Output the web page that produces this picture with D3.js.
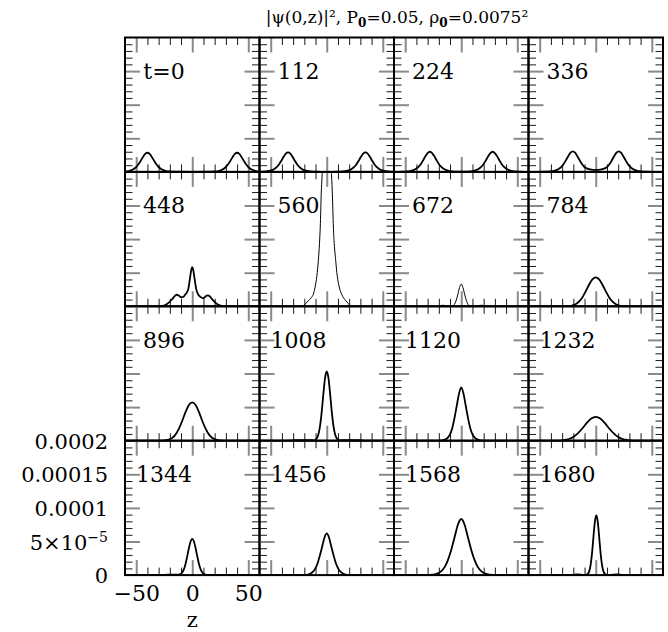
<!DOCTYPE html>
<html>
<head>
<meta charset="utf-8">
<script src="https://cdn.jsdelivr.net/npm/d3@7"></script>
<style>
    body { margin: 0; background: #fff; }
    svg { display: block; }
    text { font-family: "DejaVu Serif", serif; fill: #000; }
</style>
</head>
<body>
<script>
// labels of the 16 panels (time)
const times = ["t=0", "112", "224", "336", "448", "560", "672", "784",
    "896", "1008", "1120", "1232", "1344", "1456", "1568", "1680"]

// |psi(0,z)|^2, [z, value in units of 1e-5]
const c0 = [[-60,0.06],[-56,0.17],[-53,0.36],[-50,0.73],[-48,1.13],[-46,1.64],[-44,2.2],[-42,2.67],[-40,2.85],[-38,2.67],[-36,2.2],[-34,1.64],[-32,1.13],[-30,0.73],[-27,0.36],[-24,0.17],[-20,0.06],[-15,0.02],[0,0],[15,0.02],[20,0.06],[24,0.17],[27,0.36],[30,0.73],[32,1.13],[34,1.64],[36,2.2],[38,2.67],[40,2.85],[42,2.67],[44,2.2],[46,1.64],[48,1.13],[50,0.73],[53,0.36],[56,0.17],[60,0.06]]
const c112 = [[-60,0.02],[-54.5,0.06],[-50.5,0.18],[-47.5,0.37],[-44.5,0.75],[-42.5,1.15],[-40.5,1.67],[-38.5,2.24],[-36.5,2.72],[-34.5,2.9],[-32.5,2.72],[-30.5,2.24],[-28.5,1.67],[-26.5,1.15],[-24.5,0.75],[-21.5,0.37],[-18.5,0.18],[-14.5,0.06],[-9.5,0.02],[0,0.01],[9.5,0.02],[14.5,0.06],[18.5,0.18],[21.5,0.37],[24.5,0.75],[26.5,1.15],[28.5,1.67],[30.5,2.24],[32.5,2.72],[34.5,2.9],[36.5,2.72],[38.5,2.24],[40.5,1.67],[42.5,1.15],[44.5,0.75],[47.5,0.37],[50.5,0.18],[54.5,0.06],[60,0.02]]
const c224 = [[-60,0.01],[-53,0.02],[-48,0.065],[-44,0.18],[-41,0.38],[-38,0.77],[-36,1.19],[-34,1.73],[-32,2.32],[-30,2.81],[-28,3.0],[-26,2.81],[-24,2.32],[-22,1.73],[-20,1.19],[-18,0.77],[-15,0.38],[-12,0.18],[-8,0.065],[-3,0.03],[0,0.025],[3,0.03],[8,0.065],[12,0.18],[15,0.38],[18,0.77],[20,1.19],[22,1.73],[24,2.32],[26,2.81],[28,3.0],[30,2.81],[32,2.32],[34,1.73],[36,1.19],[38,0.77],[41,0.38],[44,0.18],[48,0.065],[53,0.02],[60,0.01]]
const c336 = [[-60,0.005],[-45.5,0.02],[-40.5,0.065],[-36.5,0.19],[-33.5,0.39],[-30.5,0.78],[-28.5,1.21],[-26.5,1.76],[-24.5,2.36],[-22.5,2.86],[-20.5,3.05],[-18.5,2.86],[-16.5,2.36],[-14.5,1.76],[-12.5,1.21],[-10.5,0.8],[-7.5,0.48],[-4,0.34],[0,0.3],[4,0.34],[7.5,0.48],[10.5,0.8],[12.5,1.21],[14.5,1.76],[16.5,2.36],[18.5,2.86],[20.5,3.05],[22.5,2.86],[24.5,2.36],[26.5,1.76],[28.5,1.21],[30.5,0.78],[33.5,0.39],[36.5,0.19],[40.5,0.065],[45.5,0.02],[60,0.005]]
const c448 = [[-60,0],[-30,0],[-27,0.05],[-24,0.2],[-21,0.55],[-18,1.05],[-15.5,1.55],[-13.8,1.72],[-12,1.6],[-10,1.35],[-8,1.4],[-6.5,1.7],[-5,2.0],[-3.5,2.6],[-2,4.2],[-1,5.3],[0,5.82],[1,5.3],[2,4.2],[3.5,2.6],[5,1.85],[6.5,1.5],[8,1.3],[10,1.2],[12,1.5],[13.8,1.62],[15.5,1.5],[18,1.0],[21,0.5],[24,0.18],[27,0.05],[30,0],[60,0]]
const c560 = [[-60,0],[-25,0],[-21,0.1],[-18.5,0.45],[-16.5,0.8],[-14,1.25],[-12,1.8],[-10,3.2],[-8.5,5.0],[-7.5,6.8],[-6.5,9.3],[-5.8,11.8],[-4.9,16.8],[-4,20],[-3,24],[-1.5,29],[0,31],[1.5,29],[3,24],[4.1,20],[5,16.8],[5.9,11.8],[6.7,9.3],[8,6.8],[9,5.0],[10.7,3.2],[13.3,1.8],[15,1.25],[17.3,0.8],[19,0.45],[20.8,0.1],[25,0],[60,0]]
const c672 = [[-60,0],[-23,0],[-20,0.05],[-17,0.15],[-14,0.12],[-11,0.02],[-9,0],[-7.5,0.05],[-6,0.3],[-4.5,0.9],[-3,1.8],[-1.5,2.8],[0,3.3],[1.5,2.8],[3,1.8],[4.5,0.9],[6,0.3],[7.5,0.05],[9,0],[12,0.02],[15.5,0.12],[18.5,0.15],[21.5,0.05],[24,0],[60,0]]
const c784 = [[-60,0],[-30,0],[-25,0.02],[-21,0.12],[-18,0.3],[-15,0.68],[-12,1.32],[-9,2.21],[-6,3.2],[-3,4.0],[0,4.3],[3,4.0],[6,3.2],[9,2.21],[12,1.32],[15,0.68],[18,0.3],[21,0.12],[25,0.02],[30,0],[60,0]]
const c896 = [[-60,0],[-30,0],[-25,0.03],[-21,0.16],[-18,0.4],[-15,0.9],[-12,1.75],[-9,2.93],[-6,4.24],[-3,5.3],[0,5.7],[3,5.3],[6,4.24],[9,2.93],[12,1.75],[15,0.9],[18,0.4],[21,0.16],[25,0.03],[30,0],[60,0]]
const c1008 = [[-60,0],[-35,0],[-30,0.05],[-25,0.1],[-20,0.1],[-15,0.08],[-11,0.06],[-9,0.31],[-7.5,0.91],[-6,2.17],[-4.5,4.29],[-3,6.98],[-1.5,9.35],[0,10.3],[1.5,9.35],[3,6.98],[4.5,4.29],[6,2.17],[7.5,0.91],[9,0.31],[11,0.06],[15,0.08],[20,0.1],[25,0.1],[30,0.05],[35,0],[60,0]]
const c1120 = [[-60,0],[-22,0],[-17,0.05],[-14,0.2],[-12,0.45],[-10,0.95],[-8,1.9],[-6,3.4],[-4,5.2],[-2,7.0],[0,7.95],[2,7.0],[4,5.2],[6,3.4],[8,1.9],[10,0.95],[12,0.45],[14,0.2],[17,0.05],[22,0],[60,0]]
const c1232 = [[-60,0],[-38,0],[-33,0.02],[-28,0.1],[-24,0.25],[-20,0.56],[-16,1.09],[-12,1.82],[-8,2.64],[-4,3.3],[0,3.55],[4,3.3],[8,2.64],[12,1.82],[16,1.09],[20,0.56],[24,0.25],[28,0.1],[33,0.02],[38,0],[60,0]]
const c1344 = [[-60,0],[-28,0],[-22,0.05],[-17,0.07],[-13,0.05],[-10.5,0.15],[-9,0.38],[-7.5,0.85],[-6,1.65],[-4.5,2.78],[-3,4.0],[-1.5,5.0],[0,5.4],[1.5,5.0],[3,4.0],[4.5,2.78],[6,1.65],[7.5,0.85],[9,0.38],[10.5,0.15],[13,0.04],[18,0.03],[25,0],[60,0]]
const c1456 = [[-60,0],[-24,0],[-21,0.02],[-17,0.08],[-14,0.27],[-12,0.55],[-10,1.05],[-8,1.85],[-6,3.0],[-4,4.3],[-2,5.6],[0,6.2],[2,5.6],[4,4.3],[6,3.0],[8,1.85],[10,1.05],[12,0.55],[14,0.27],[17,0.08],[21,0.02],[24,0],[60,0]]
const c1568 = [[-60,0],[-32,0],[-25,0.07],[-21,0.25],[-18,0.55],[-15,1.15],[-12,2.2],[-9,3.7],[-6,5.6],[-3,7.5],[0,8.35],[3,7.5],[6,5.6],[9,3.7],[12,2.2],[15,1.15],[18,0.55],[21,0.25],[25,0.07],[32,0],[60,0]]
const c1680 = [[-60,0],[-22,0],[-19,0.08],[-16,0.12],[-13,0.05],[-10,0],[-8,0.06],[-6.5,0.31],[-5.5,0.76],[-4.5,1.6],[-3.5,2.97],[-2.5,4.8],[-1.5,6.77],[-0.5,8.3],[0.5,8.9],[1.5,8.3],[2.5,6.77],[3.5,4.8],[4.5,2.97],[5.5,1.6],[6.5,0.76],[7.5,0.31],[9,0.06],[11,0],[15,0.05],[18.5,0.12],[21.5,0.08],[24,0],[60,0]]

const curves = [c0, c112, c224, c336, c448, c560, c672, c784,
    c896, c1008, c1120, c1232, c1344, c1456, c1568, c1680]

// panels drawn with the thin pen
const thinPanels = ["560", "672"]

// axis ticks and their labels (y in units of 1e-5)
const xMajor = [-50, 0, 50]
const xMinor = [-40, -30, -20, -10, 10, 20, 30, 40]
const xTickLabels = ["\u221250", "0", "50"]
const yMajor = [5, 10, 15]
const yMinor = [1, 2, 3, 4, 6, 7, 8, 9, 11, 12, 13, 14, 16, 17, 18, 19]
const yLabelVals = [0, 5, 10, 15, 20]
const yTickLabels = ["0", "5\u00d710", "0.0001", "0.00015", "0.0002"]

//------------------------------------------------------------------------------

const W = 668, H = 632
const gridLeft = 125, gridTop = 37.5
const pw = 134.5, ph = 134.4

const svg = d3.select("body").append("svg")
    .attr("width", W)
    .attr("height", H)

const x = d3.scaleLinear().domain([-60, 60]).range([0, pw])
const y = d3.scaleLinear().domain([0, 20]).range([ph, 0])

const line = d3.line()
    .x(d => x(d[0]))
    .y(d => y(d[1]))
    .curve(d3.curveMonotoneX)

svg.append("defs").append("clipPath")
    .attr("id", "clip")
    .append("rect")
    .attr("width", pw)
    .attr("height", ph)

// ticks pointing into the panel on all 4 sides, long grey majors, short dark minors
function drawTicks(g) {
    [[xMinor, 7.5, "#1a1a1a", 1], [xMajor, 15, "#8a8a8a", 2]].forEach(([vals, len, col, sw]) => {
        g.append("g").call(d3.axisBottom(x).tickValues(vals).tickSize(len).tickFormat(""))
            .selectAll("line").attr("stroke", col).attr("stroke-width", sw)
        g.append("g").attr("transform", "translate(0," + ph + ")")
            .call(d3.axisTop(x).tickValues(vals).tickSize(len).tickFormat(""))
            .selectAll("line").attr("stroke", col).attr("stroke-width", sw)
    });
    [[yMinor, 7.5, "#1a1a1a", 1], [yMajor, 15, "#8a8a8a", 2]].forEach(([vals, len, col, sw]) => {
        g.append("g").call(d3.axisRight(y).tickValues(vals).tickSize(len).tickFormat(""))
            .selectAll("line").attr("stroke", col).attr("stroke-width", sw)
        g.append("g").attr("transform", "translate(" + pw + ",0)")
            .call(d3.axisLeft(y).tickValues(vals).tickSize(len).tickFormat(""))
            .selectAll("line").attr("stroke", col).attr("stroke-width", sw)
    })
    g.selectAll(".domain").remove()
}

curves.forEach((pts, i) => {
    const col = i % 4
    const row = Math.floor(i / 4)
    const g = svg.append("g")
        .attr("transform", "translate(" + (gridLeft + col * pw) + "," + (gridTop + row * ph) + ")")

    drawTicks(g)

    g.append("path")
        .datum(pts)
        .attr("d", line)
        .attr("clip-path", "url(#clip)")
        .attr("fill", "none")
        .attr("stroke", "#000")
        .attr("stroke-width", thinPanels.includes(times[i]) ? 1 : 1.8)
        .attr("stroke-linejoin", "round")

    g.append("text")
        .attr("x", 39)
        .attr("y", 41.5)
        .attr("text-anchor", "middle")
        .style("font-size", "22px")
        .text(times[i])

    g.append("rect")
        .attr("width", pw)
        .attr("height", ph)
        .attr("fill", "none")
        .attr("stroke", "#000")
        .attr("stroke-width", 2)
})

//------------------------------------------------------------------------------

// tick labels only on the bottom-left panel
const corner = svg.append("g")
    .attr("transform", "translate(" + gridLeft + "," + (gridTop + 3 * ph) + ")")

corner.append("g")
    .call(d3.axisLeft(y).tickValues(yLabelVals).tickSize(0).tickPadding(17)
        .tickFormat((d, i) => yTickLabels[i]))
    .call(g => g.select(".domain").remove())
    .selectAll("text")
    .style("font-size", "21px")
    .attr("dy", "0.36em")

// superscript on 5x10^-5
corner.selectAll(".tick text")
    .filter(d => d === 5)
    .append("tspan")
    .attr("dy", "-0.55em")
    .style("font-size", "14px")
    .text("\u22125")

corner.append("g")
    .attr("transform", "translate(0," + ph + ")")
    .call(d3.axisBottom(x).tickValues(xMajor).tickSize(0).tickPadding(10)
        .tickFormat((d, i) => xTickLabels[i]))
    .call(g => g.select(".domain").remove())
    .selectAll("text")
    .style("font-size", "22px")

svg.append("text")
    .attr("x", gridLeft + x(0))
    .attr("y", 626.5)
    .attr("text-anchor", "middle")
    .style("font-size", "21px")
    .text("z")

// title
const title = svg.append("text")
    .attr("x", 397)
    .attr("y", 23)
    .attr("text-anchor", "middle")
    .style("font-size", "17px")
title.append("tspan").text("|\u03c8(0,z)|\u00b2,  P")
title.append("tspan").attr("dy", 4).style("font-size", "12px").style("font-weight", "bold").text("0")
title.append("tspan").attr("dy", -4).text("=0.05,  \u03c1")
title.append("tspan").attr("dy", 4).style("font-size", "12px").style("font-weight", "bold").text("0")
title.append("tspan").attr("dy", -4).text("=0.0075\u00b2")
</script>
</body>
</html>
